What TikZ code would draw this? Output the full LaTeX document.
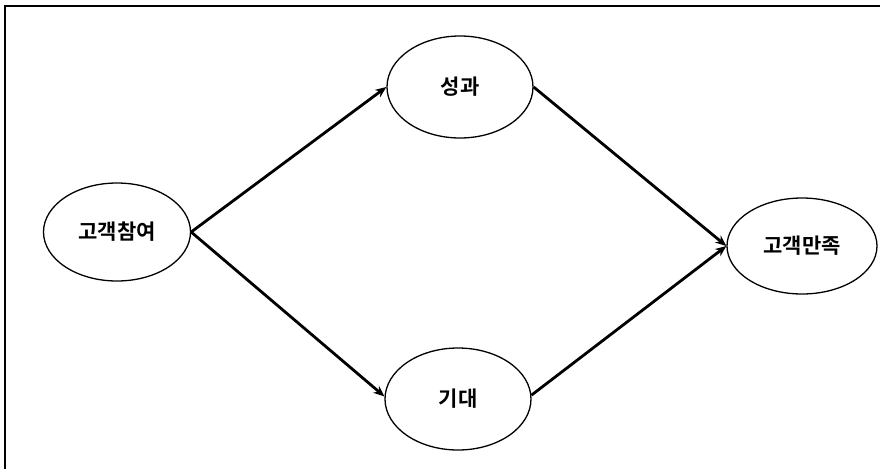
\documentclass[tikz,border=0pt]{standalone}
\usepackage{fontspec}
\newfontfamily\kr{Noto Sans CJK KR}[BoldFont={* Bold}]
\usetikzlibrary{shapes.geometric,arrows.meta}
\begin{document}
\begin{tikzpicture}[x=1pt,y=-1pt,
  oval/.style={ellipse,draw,line width=1.3pt,inner sep=0pt,font=\kr\bfseries\fontsize{21}{22}\selectfont},
  link/.style={line width=2.8pt,-{Stealth[length=11pt,width=9pt]}}]
\useasboundingbox (0,0) rectangle (880,469);
\draw[line width=2pt] (5,469) -- (5,6) -- (880,6);
\node[oval,minimum width=147pt,minimum height=98pt] (a) at (117,232) {고객참여};
\node[oval,minimum width=146pt,minimum height=102pt] (b) at (460,87) {성과};
\node[oval,minimum width=146pt,minimum height=102pt] (c) at (458,399) {기대};
\node[oval,minimum width=150pt,minimum height=96pt] (d) at (802,246) {고객만족};
\draw[link] (a.east) -- (b.west);
\draw[link] (a.east) -- (c.178);
\draw[link] (b.east) -- (d.west);
\draw[link] (c.3) -- (d.west);
\end{tikzpicture}
\end{document}
